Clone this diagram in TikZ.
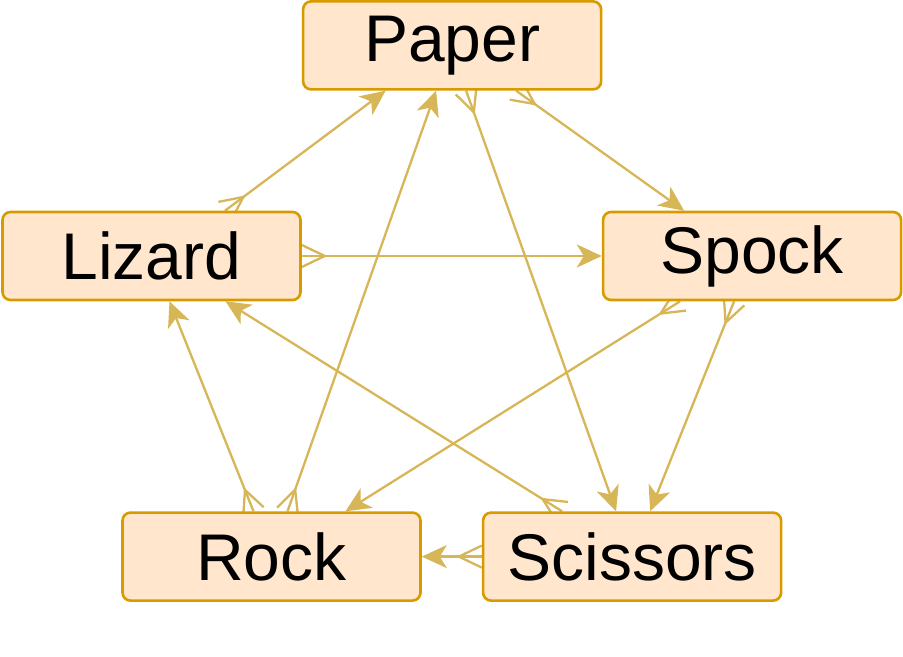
\documentclass[tikz,border=0pt]{standalone}
\usepackage{fontspec}
\setmainfont{Liberation Sans}
\usetikzlibrary{arrows.meta,positioning,backgrounds}
\definecolor{handfill}{HTML}{FFE6CC}
\definecolor{handline}{HTML}{D79B00}
\definecolor{beatline}{HTML}{D6B656}

% crow's foot tail, the line runs on to the tip
\pgfdeclarearrow{
  name = Crow,
  parameters = {\the\pgfarrowlength,\the\pgfarrowwidth},
  setup code = {
    \pgfarrowssettipend{0pt}
    \pgfarrowssetbackend{-\pgfarrowlength}
    \pgfarrowssetlineend{0pt}
    \pgfarrowshullpoint{0pt}{.5\pgfarrowwidth}
    \pgfarrowshullpoint{0pt}{-.5\pgfarrowwidth}
    \pgfarrowshullpoint{-\pgfarrowlength}{0pt}
  },
  drawing code = {
    \pgfpathmoveto{\pgfqpoint{0pt}{.5\pgfarrowwidth}}
    \pgfpathlineto{\pgfqpoint{-\pgfarrowlength}{0pt}}
    \pgfpathlineto{\pgfqpoint{0pt}{-.5\pgfarrowwidth}}
    \pgfusepathqstroke
  },
  defaults = {length=11.5pt, width=11pt}
}

\begin{document}
\begin{tikzpicture}[
    node distance=60pt and 150pt,
    hand/.style={rectangle, draw=handline, fill=handfill, line width=1.3pt, rounded corners=4pt, minimum width=149pt, minimum height=44pt, font=\fontsize{33}{40}\selectfont},
    beats/.style={draw=beatline, line width=1.15pt, {Crow[length=11.5pt, width=11pt]}-{Stealth[length=12.5pt, width=11.5pt, inset=3.5pt]}}
]
    \useasboundingbox (-75.75pt,-200.5pt) rectangle (375.75pt,128pt);
    \node[hand] (lizard) {Lizard};
    \node[hand, right=of lizard] (spock) {Spock};
    \node[hand, above right=60pt and 0pt of lizard] (paper) {Paper};
    \node[hand, below=105pt of lizard, xshift=60pt] (rock) {Rock};
    \node[hand, right=30pt of rock] (scissors) {Scissors};

    \begin{scope}[on background layer]
    \draw[beats] ([xshift=36.75pt]lizard.north) -- ([xshift=-33.25pt]paper.south);
    \draw[beats] ([xshift=32pt]paper.south) -- ([xshift=-34pt]spock.north);
    \draw[beats] (lizard.east) -- (spock.west);
    \draw[beats] ([xshift=8pt]rock.north) -- ([xshift=-8pt]paper.south);
    \draw[beats] ([xshift=7pt]paper.south) -- ([xshift=-8pt]scissors.north);
    \draw[beats] ([xshift=-36pt]spock.south) -- ([xshift=37pt]rock.north);
    \draw[beats] ([xshift=-9pt]spock.south) -- ([xshift=9pt]scissors.north);
    \draw[beats] ([xshift=-9pt]rock.north) -- ([xshift=9pt]lizard.south);
    \draw[beats] ([xshift=-35pt]scissors.north) -- ([xshift=37pt]lizard.south);
    \draw[beats] (scissors.west) -- (rock.east);
    \end{scope}
\end{tikzpicture}
\end{document}
